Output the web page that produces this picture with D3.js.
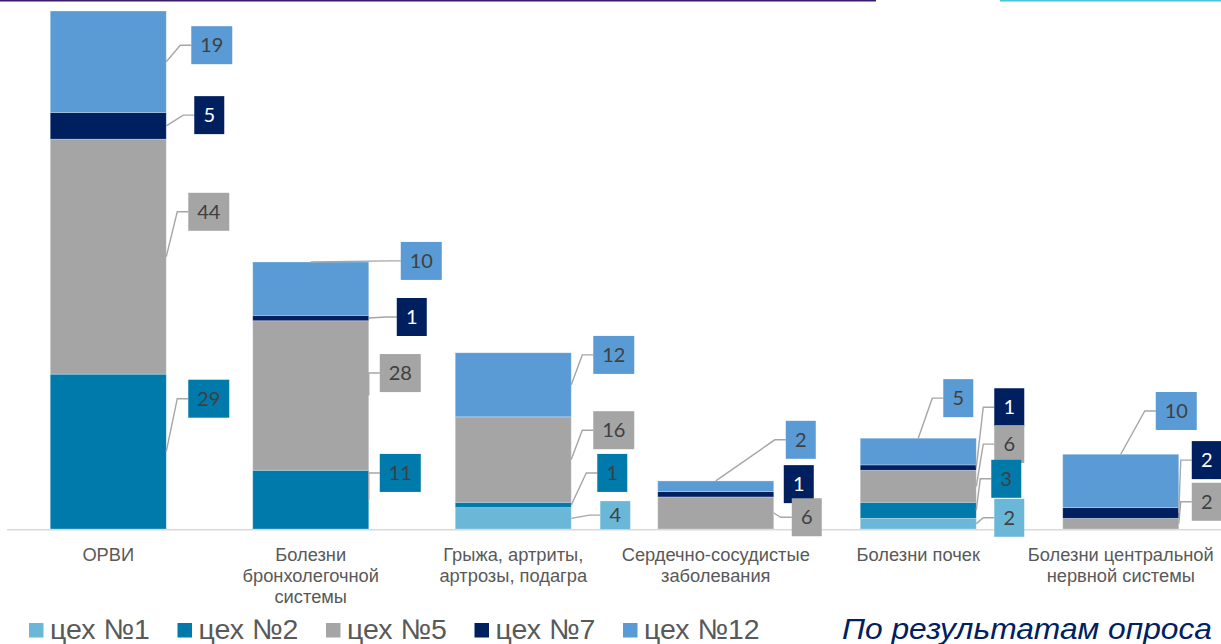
<!DOCTYPE html>
<html>
<head>
<meta charset="utf-8">
<script src="https://cdn.jsdelivr.net/npm/d3@7/dist/d3.min.js"></script>
<style>
  html, body { margin: 0; padding: 0; background: #fff; }
  svg { display: block; }
</style>
</head>
<body>
<svg id="chart" width="1221" height="644"></svg>
<script>
// ---------- data ----------
const categories = [
  "ОРВИ",
  "Болезни\nбронхолегочной\nсистемы",
  "Грыжа, артриты,\nартрозы, подагра",
  "Сердечно-сосудистые\nзаболевания",
  "Болезни почек",
  "Болезни центральной\nнервной системы"
];
const seriesNames = ["цех №1", "цех №2", "цех №5", "цех №7", "цех №12"];
const shop1  = [0, 0, 4, 0, 2, 0];
const shop2  = [29, 11, 1, 0, 3, 0];
const shop5  = [44, 28, 16, 6, 6, 2];
const shop7  = [5, 1, 0, 1, 1, 2];
const shop12 = [19, 10, 12, 2, 5, 10];
const seriesValues = [shop1, shop2, shop5, shop7, shop12];
const footnote = "По результатам опроса";

// ---------- style ----------
const colors = ["#6bb7d7", "#0079ab", "#a5a5a5", "#001f5f", "#5b9bd5"];
const labelText = ["#404040", "#404040", "#404040", "#ffffff", "#404040"];

// data-label layout: s = series index, dx = box left offset from bar right edge,
// v = box centre in value units, top = leader attached to bar top, lead = draw leader
const labelLayout = [
  [{s:4,dx:25,v:90.6},{s:3,dx:28,v:77.5},{s:2,dx:22,v:59.4},{s:1,dx:22,v:24.4}],
  [{s:4,dx:32,v:50.2,top:true},{s:3,dx:28,v:39.7},{s:2,dx:11,v:29.2},{s:1,dx:11,v:10.5}],
  [{s:4,dx:22,v:32.6},{s:2,dx:22,v:18.5},{s:1,dx:26,v:10.5},{s:0,dx:29,v:2.6,h:28}],
  [{s:4,dx:12,v:16.7,top:true},{s:3,dx:10,v:8.4,lead:false},{s:2,dx:18,v:2.2}],
  [{s:4,dx:-33,v:24.5,top:true},{s:3,dx:18,v:22.8},{s:2,dx:18,v:15.9},{s:1,dx:15,v:9.4},{s:0,dx:18,v:2.1}],
  [{s:4,dx:-23,v:22.1,top:true},{s:3,dx:13,v:12.9},{s:2,dx:13,v:5.1}]
];

const svg = d3.select("#chart");

// top decorative lines
svg.append("rect").attr("x", 0).attr("y", 0).attr("width", 876).attr("height", 1.5).attr("fill", "#3b1c6c");
svg.append("rect").attr("x", 1000).attr("y", 0).attr("width", 221).attr("height", 1.5).attr("fill", "#4cc4da");

// scales
const x = d3.scaleBand().domain(d3.range(categories.length))
  .range([7, 1222]).paddingInner(0.427).paddingOuter(0.2135);
const totals = categories.map((c, i) => d3.sum(seriesValues, s => s[i]));
const y = d3.scaleLinear().domain([0, d3.max(totals)]).range([529, 11]);

// stack
const table = categories.map((c, i) => {
  const o = { i };
  seriesNames.forEach((n, k) => o[k] = seriesValues[k][i]);
  return o;
});
const stack = d3.stack().keys(d3.range(seriesNames.length))(table);

const g = svg.append("g");
stack.forEach((layer, k) => {
  g.selectAll(null).data(layer.filter(d => d[1] - d[0] > 0)).enter()
    .append("rect")
    .attr("x", d => x(d.data.i))
    .attr("y", d => y(d[1]))
    .attr("width", x.bandwidth())
    .attr("height", d => y(d[0]) - y(d[1]))
    .attr("fill", colors[k])
    .attr("stroke", "rgba(255,255,255,0.35)")
    .attr("stroke-width", 0.8);
});

// axis line
svg.append("line").attr("x1", 7).attr("x2", 1221).attr("y1", 529.8).attr("y2", 529.8)
  .attr("stroke", "#d9d9d9").attr("stroke-width", 1.6);

// category labels
categories.forEach((c, i) => {
  const cx = x(i) + x.bandwidth() / 2;
  const t = svg.append("text")
    .attr("x", cx)
    .attr("y", 561)
    .attr("text-anchor", "middle")
    .attr("font-family", "Liberation Sans, Arial, sans-serif")
    .attr("font-size", 18.3)
    .attr("fill", "#595959");
  c.split("\n").forEach((line, j) => {
    t.append("tspan").attr("x", cx).attr("dy", j === 0 ? 0 : 21).text(line);
  });
});

// data labels
const lg = svg.append("g");
labelLayout.forEach((list, ci) => {
  const barL = x(ci), barR = x(ci) + x.bandwidth();
  list.forEach(L => {
    const seg = stack[L.s][ci];
    const val = seriesValues[L.s][ci];
    const yc = y(L.v);
    const bx = barR + L.dx;
    const h = L.h || 38;
    const txt = lg.append("text")
      .attr("font-family", "Lato, Calibri, sans-serif")
      .attr("font-size", 20)
      .attr("fill", labelText[L.s])
      .attr("text-anchor", "middle")
      .text(val);
    const tw = txt.node().getComputedTextLength();
    const bw = Math.round(tw + 18);
    if (L.lead !== false) {
      let ax, ay;
      if (L.top) { ax = (barL + barR) / 2; ay = y(seg[1]); }
      else { ax = barR; ay = (y(seg[0]) + y(seg[1])) / 2; }
      lg.insert("path", "text")
        .attr("d", d3.line()([[ax, ay], [bx - 11, yc], [bx, yc]]))
        .attr("fill", "none")
        .attr("stroke", "#a6a6a6")
        .attr("stroke-width", 1.4);
    }
    lg.insert("rect", "text")
      .attr("x", bx).attr("y", yc - h / 2)
      .attr("width", bw).attr("height", h)
      .attr("fill", colors[L.s]);
    txt.attr("x", bx + bw / 2).attr("y", yc + 7).raise();
  });
});

// legend
const legend = svg.append("g");
seriesNames.forEach((n, k) => {
  const lx = 29 + k * 148.5;
  legend.append("rect").attr("x", lx).attr("y", 623).attr("width", 14.5).attr("height", 14.5).attr("fill", colors[k]);
  legend.append("text").attr("x", lx + 21).attr("y", 638.5)
    .attr("font-family", "Liberation Sans, Arial, sans-serif")
    .attr("font-size", 28.5).attr("fill", "#595959").text(n);
});

// footnote
svg.append("text").attr("x", 842).attr("y", 638.5)
  .attr("font-family", "Liberation Sans, Arial, sans-serif")
  .attr("font-style", "italic")
  .attr("font-size", 30)
  .attr("textLength", 370)
  .attr("lengthAdjust", "spacingAndGlyphs")
  .attr("fill", "#002060")
  .text(footnote);
</script>
</body>
</html>
